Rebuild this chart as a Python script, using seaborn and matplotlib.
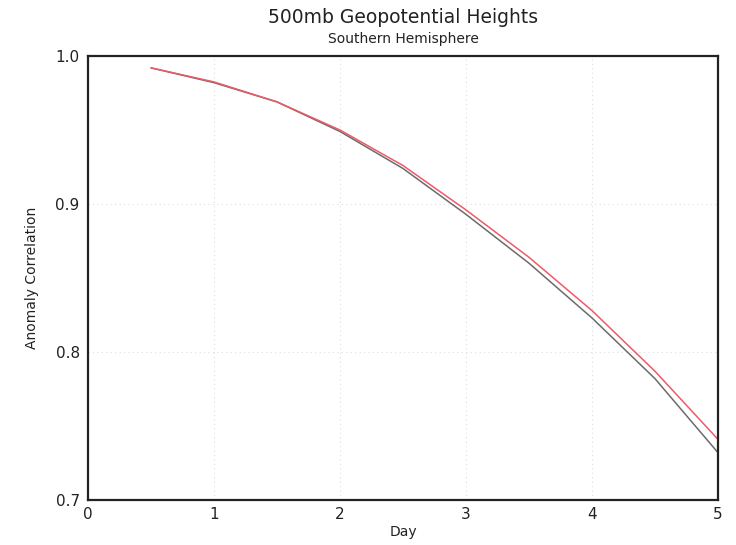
import matplotlib
matplotlib.use("Agg")
import matplotlib.pyplot as plt
import seaborn as sns
import pandas as pd

days = [0.5, 1.0, 1.5, 2.0, 2.5, 3.0, 3.5, 4.0, 4.5, 5.0]
red_vals = [0.992, 0.9825, 0.969, 0.950, 0.926, 0.896, 0.864, 0.828, 0.787, 0.741]
black_vals = [0.992, 0.982, 0.969, 0.949, 0.924, 0.893, 0.860, 0.823, 0.782, 0.732]
series_names = ["Black", "Red"]
x_ticks = [0, 1, 2, 3, 4, 5]
y_ticks = [0.7, 0.8, 0.9, 1.0]

df = pd.DataFrame({
    "Day": days * 2,
    "AC": black_vals + red_vals,
    "series": [series_names[0]] * len(days) + [series_names[1]] * len(days),
})

sns.set_style("white")
plt.rcParams["font.family"] = ["DejaVu Sans"]

fig = plt.figure(figsize=(7.36, 5.45), dpi=100)
ax = fig.add_axes([0.1196, 0.0826, 0.8559, 0.8146])

sns.lineplot(data=df, x="Day", y="AC", hue="series",
             palette={"Black": "#6b6b6b", "Red": "#ee5a66"},
             linewidth=1.1, legend=False, ax=ax)

ax.set_xlim(0, 5)
ax.set_ylim(0.7, 1.0)
ax.set_xticks(x_ticks)
ax.set_xticklabels([str(t) for t in x_ticks])
ax.set_yticks(y_ticks)
ax.set_yticklabels([f"{t:.1f}" for t in y_ticks])
ax.grid(True, linestyle=(0, (1, 3)), color="#dddddd", linewidth=0.8)
for s in ax.spines.values():
    s.set_color("#222222")
    s.set_linewidth(1.6)
ax.tick_params(axis="both", direction="out", length=4, width=1, color="#333333",
               labelsize=11, labelcolor="#222222", pad=2)
ax.tick_params(axis="x", pad=1)

ax.set_xlabel("Day", fontsize=10, color="#222222", labelpad=2)
ax.set_ylabel("Anomaly Correlation", fontsize=10, color="#222222", labelpad=12)

fig.text(0.548, 0.967, "500mb Geopotential Heights", ha="center", va="center",
         fontsize=13.5, color="#222222")
fig.text(0.548, 0.928, "Southern Hemisphere", ha="center", va="center",
         fontsize=10, color="#222222")

fig.savefig("out.png", dpi=100)
